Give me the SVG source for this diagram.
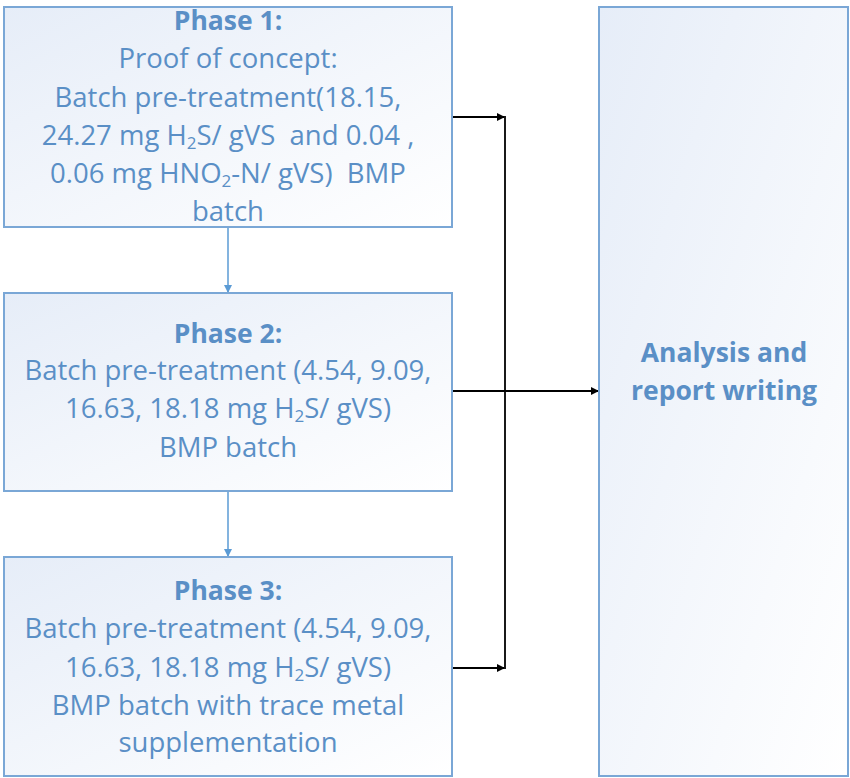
<svg xmlns="http://www.w3.org/2000/svg" width="850" height="778" viewBox="0 0 850 778">
<defs>
<linearGradient id="g" x1="0" y1="0" x2="1" y2="1">
<stop offset="0" stop-color="#e6edf8"/>
<stop offset="1" stop-color="#ffffff"/>
</linearGradient>
<marker id="ab" markerWidth="8" markerHeight="8" refX="7" refY="4" orient="auto" markerUnits="userSpaceOnUse">
<path d="M0,0 L8,4 L0,8 Z" fill="#5b9bd5"/>
</marker>
<marker id="ak" markerWidth="8" markerHeight="8" refX="7" refY="4" orient="auto" markerUnits="userSpaceOnUse">
<path d="M0,0 L8,4 L0,8 Z" fill="#000"/>
</marker>
</defs>
<style>
.box{fill:url(#g);stroke:#7aa7d6;stroke-width:2}
text{font-family:"Open Sans","Liberation Sans",sans-serif;font-size:27.5px;fill:#5a8fc6;text-anchor:middle}
.b{font-weight:bold;font-size:26.5px}
.s{font-size:17px}
.cb{stroke:#5b9bd5;stroke-width:1.5;fill:none}
.ck{stroke:#000;stroke-width:1.8;fill:none}
</style>
<g id="connectors">
<path class="cb" d="M228,227 V292" marker-end="url(#ab)"/>
<path class="cb" d="M228,491 V556" marker-end="url(#ab)"/>
<path class="ck" d="M452,117 H504" marker-end="url(#ak)"/>
<path class="ck" d="M452,668 H504" marker-end="url(#ak)"/>
<path class="ck" d="M505,116 V669"/>
<path class="ck" d="M452,391 H598" marker-end="url(#ak)"/>
</g>
<g id="phase1">
<rect class="box" x="4" y="7" width="448" height="220"/>
<text x="228" y="30" class="b">Phase 1:</text>
<text x="228" y="68">Proof of concept:</text>
<text x="228" y="107">Batch pre-treatment(18.15,</text>
<text x="228" y="145">24.27 mg H<tspan class="s" dy="4">2</tspan><tspan dy="-4">S/ gVS&#160; and 0.04 ,</tspan></text>
<text x="228" y="183">0.06 mg HNO<tspan class="s" dy="4">2</tspan><tspan dy="-4">-N/ gVS)&#160; BMP</tspan></text>
<text x="228" y="221">batch</text>
</g>
<g id="phase2">
<rect class="box" x="4" y="293" width="448" height="198"/>
<text x="228" y="343" class="b">Phase 2:</text>
<text x="228" y="380">Batch pre-treatment (4.54, 9.09,</text>
<text x="228" y="418">16.63, 18.18 mg H<tspan class="s" dy="4">2</tspan><tspan dy="-4">S/ gVS)</tspan></text>
<text x="228" y="457">BMP batch</text>
</g>
<g id="phase3">
<rect class="box" x="4" y="557" width="448" height="219"/>
<text x="228" y="600" class="b">Phase 3:</text>
<text x="228" y="638">Batch pre-treatment (4.54, 9.09,</text>
<text x="228" y="677">16.63, 18.18 mg H<tspan class="s" dy="4">2</tspan><tspan dy="-4">S/ gVS)</tspan></text>
<text x="228" y="715">BMP batch with trace metal</text>
<text x="228" y="752">supplementation</text>
</g>
<g id="analysis">
<rect class="box" x="599" y="7" width="249" height="769"/>
<text x="724" y="362" class="b">Analysis and</text>
<text x="724" y="400" class="b">report writing</text>
</g>
</svg>
